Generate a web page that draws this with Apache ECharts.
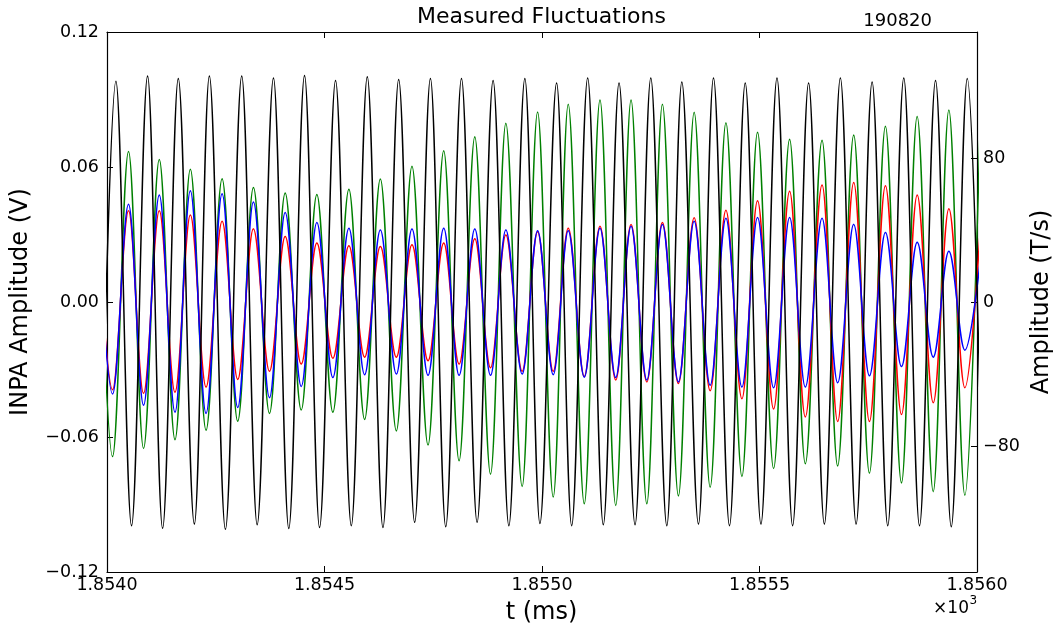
<!DOCTYPE html>
<html>
<head>
<meta charset="utf-8">
<script src="https://cdn.jsdelivr.net/npm/echarts@6/dist/echarts.min.js"></script>
<style>
html,body{margin:0;padding:0;background:#fff;}
#chart{width:1060px;height:626px;}
</style>
</head>
<body>
<div id="chart"></div>
<script>
// ---- Data (t in ms) ----
// Extrema (peak / trough) times of the INPA channels (red, green, blue share timing)
const tInpa = [1853.9763,1854.0127,1854.0495,1854.0840,1854.1202,1854.1563,1854.1916,1854.2277,1854.2646,1854.3005,
  1854.3366,1854.3735,1854.4096,1854.4465,1854.4824,1854.5192,1854.5561,1854.5922,1854.6284,1854.6652,
  1854.7011,1854.7380,1854.7741,1854.8094,1854.8455,1854.8817,1854.9169,1854.9544,1854.9899,1855.0258,
  1855.0603,1855.0972,1855.1333,1855.1695,1855.2047,1855.2409,1855.2768,1855.3136,1855.3498,1855.3866,
  1855.4228,1855.4596,1855.4955,1855.5324,1855.5692,1855.6053,1855.6438,1855.6797,1855.7166,1855.7527,
  1855.7895,1855.8264,1855.8625,1855.8994,1855.9353,1855.9721,1856.0083];
const greenV = [0.068,-0.0687,0.0669,-0.0651,0.0633,-0.0612,0.0590,-0.0570,0.0548,-0.0530,
  0.0509,-0.0495,0.0484,-0.0480,0.0478,-0.0490,0.0501,-0.0522,0.0547,-0.0573,
  0.0603,-0.0636,0.0672,-0.0706,0.0734,-0.0765,0.0794,-0.0820,0.0845,-0.0867,
  0.0879,-0.0897,0.0898,-0.0904,0.0898,-0.0897,0.0879,-0.0862,0.0843,-0.0823,
  0.0797,-0.0776,0.0754,-0.0740,0.0723,-0.0719,0.0719,-0.0729,0.0742,-0.0761,
  0.0781,-0.0804,0.0825,-0.0843,0.0853,-0.0859,0.087];
const redV = [0.040,-0.039,0.0406,-0.0406,0.0406,-0.0401,0.0387,-0.0378,0.0359,-0.0344,
  0.0325,-0.0308,0.0291,-0.0276,0.0262,-0.0250,0.0250,-0.0245,0.0247,-0.0245,
  0.0255,-0.0261,0.0262,-0.0276,0.0281,-0.0292,0.0298,-0.0308,0.0312,-0.0308,
  0.0328,-0.0331,0.0337,-0.0347,0.0344,-0.0355,0.0353,-0.0362,0.0375,-0.0394,
  0.0408,-0.0430,0.0450,-0.0475,0.0492,-0.0511,0.0520,-0.0531,0.0531,-0.0531,
  0.0517,-0.0500,0.0476,-0.0448,0.0415,-0.0381,0.035];
const blueV = [0.040,-0.0409,0.0434,-0.0459,0.0476,-0.0490,0.0494,-0.0495,0.0481,-0.0469,
  0.0445,-0.0425,0.0398,-0.0375,0.0353,-0.0336,0.0328,-0.0323,0.0320,-0.0320,
  0.0325,-0.0326,0.0328,-0.0326,0.0325,-0.0326,0.0320,-0.0320,0.0317,-0.0323,
  0.0317,-0.0334,0.0328,-0.0336,0.0337,-0.0347,0.0345,-0.0355,0.0359,-0.0370,
  0.0372,-0.0378,0.0376,-0.0381,0.0376,-0.0378,0.0372,-0.0359,0.0345,-0.0328,
  0.0309,-0.0287,0.0266,-0.0245,0.0226,-0.0214,0.020];
// Extrema of the magnetic probe signal (right axis, T/s)
const tBdot = [1853.9843,1854.0205,1854.0564,1854.0933,1854.1278,1854.1639,1854.2008,1854.2353,1854.2722,1854.3097,
  1854.3452,1854.3827,1854.4179,1854.4541,1854.4886,1854.5254,1854.5616,1854.5984,1854.6344,1854.6705,
  1854.7073,1854.7435,1854.7787,1854.8149,1854.8508,1854.8876,1854.9238,1854.9606,1854.9952,1855.0336,
  1855.0682,1855.1050,1855.1409,1855.1771,1855.2139,1855.2501,1855.2869,1855.3214,1855.3597,1855.3942,
  1855.4310,1855.4672,1855.5033,1855.5402,1855.5761,1855.6129,1855.6491,1855.6859,1855.7221,1855.7589,
  1855.7948,1855.8317,1855.8678,1855.9047,1855.9408,1855.9777,1856.0140];
const blackV = [-124,122.6,-124.3,125.5,-125.7,124.1,-123.4,125.5,-126.3,125.5,
  -123.8,124.5,-125.9,125.9,-125.3,123.0,-124.3,125.1,-125.3,123.6,
  -122.4,124.1,-124.9,124.1,-122.4,123.0,-124.3,124.1,-123.0,121.6,
  -124.3,124.5,-123.8,121.6,-123.8,124.5,-124.3,122.2,-123.4,124.5,
  -124.3,121.6,-123.4,124.5,-124.3,121.6,-123.4,124.5,-123.4,122.2,
  -124.3,124.5,-124.3,123.0,-124.9,124.1,-124];

const xTicks = [1854.0, 1854.5, 1855.0, 1855.5, 1856.0];
const leftTicks = [-0.12, -0.06, 0, 0.06, 0.12];
const rightTicks = [-80, 0, 80];

function pairs(t, v){ return t.map((x,i)=>[x, v[i]]); }
function minus(s){ return s.replace('-', '\u2212'); }

const FONT = 'DejaVu Sans';
const chart = echarts.init(document.getElementById('chart'), null, {renderer:'canvas'});

const lineBase = {
  type: 'line', showSymbol: false, symbol: 'none',
  smooth: 0.3642, smoothMonotone: 'x',
  animation: false, silent: true, clip: true
};

chart.setOption({
  animation: false,
  backgroundColor: '#fff',
  grid: {left: 107, right: 83, top: 32, bottom: 54, containLabel: false, outerBoundsMode: 'none'},
  xAxis: [{
    type: 'value', min: 1854, max: 1856, interval: 0.5, position: 'bottom',
    axisLine: {show: true, onZero: false, lineStyle: {color: '#000', width: 1.2}},
    axisTick: {show: true, inside: true, length: 6, lineStyle: {color: '#000'}},
    axisLabel: {margin: 4, color: '#000', fontFamily: FONT, fontSize: 17.5,
      formatter: v => (v/1000).toFixed(4)},
    splitLine: {show: false}
  }, {
    type: 'value', min: 1854, max: 1856, interval: 0.5, position: 'top',
    axisLine: {show: true, onZero: false, lineStyle: {color: '#000', width: 1.2}},
    axisTick: {show: true, inside: true, length: 6, lineStyle: {color: '#000'}},
    axisLabel: {show: false},
    splitLine: {show: false}
  }],
  yAxis: [{
    type: 'value', min: -0.12, max: 0.12, interval: 0.06, position: 'left',
    axisLine: {show: true, onZero: false, lineStyle: {color: '#000', width: 1.2}},
    axisTick: {show: true, inside: true, length: 6, lineStyle: {color: '#000'}},
    axisLabel: {margin: 8, color: '#000', fontFamily: FONT, fontSize: 17.5,
      formatter: v => minus(v.toFixed(2))},
    splitLine: {show: false}
  }, {
    type: 'value', min: -150, max: 150, position: 'right',
    axisLine: {show: true, onZero: false, lineStyle: {color: '#000', width: 1.2}},
    axisTick: {show: true, inside: true, length: 6, lineStyle: {color: '#000'}, customValues: rightTicks},
    axisLabel: {margin: 6, color: '#000', fontFamily: FONT, fontSize: 17.5, customValues: rightTicks,
      formatter: v => minus(String(v))},
    splitLine: {show: false}
  }],
  series: [
    Object.assign({}, lineBase, {name: 'green', data: pairs(tInpa, greenV), yAxisIndex: 0,
      lineStyle: {color: '#008000', width: 1.5}, z: 2}),
    Object.assign({}, lineBase, {name: 'red', data: pairs(tInpa, redV), yAxisIndex: 0,
      lineStyle: {color: '#ff0000', width: 1.5}, z: 3}),
    Object.assign({}, lineBase, {name: 'blue', data: pairs(tInpa, blueV), yAxisIndex: 0,
      lineStyle: {color: '#0000ff', width: 1.5}, z: 4}),
    Object.assign({}, lineBase, {name: 'black', data: pairs(tBdot, blackV), yAxisIndex: 1,
      lineStyle: {color: '#000000', width: 1.5}, z: 5})
  ],
  graphic: [
    {type: 'text', x: 541.5, y: 17, style: {text: 'Measured Fluctuations', font: '22px "DejaVu Sans"', fill: '#000', align: 'center', verticalAlign: 'middle'}},
    {type: 'text', x: 932, y: 21, style: {text: '190820', font: '18px "DejaVu Sans"', fill: '#000', align: 'right', verticalAlign: 'middle'}},
    {type: 'text', x: 21, y: 302, rotation: Math.PI/2, style: {text: 'INPA Amplitude (V)', font: '24px "DejaVu Sans"', fill: '#000', align: 'center', verticalAlign: 'middle'}},
    {type: 'text', x: 1042, y: 302, rotation: Math.PI/2, style: {text: 'Amplitude (T/s)', font: '24px "DejaVu Sans"', fill: '#000', align: 'center', verticalAlign: 'middle'}},
    {type: 'text', x: 541.5, y: 613, style: {text: 't (ms)', font: '24px "DejaVu Sans"', fill: '#000', align: 'center', verticalAlign: 'middle'}},
    {type: 'text', x: 969, y: 609, style: {text: '\u00d710', font: '17px "DejaVu Sans"', fill: '#000', align: 'right', verticalAlign: 'middle'}},
    {type: 'text', x: 969.5, y: 601, style: {text: '3', font: '12px "DejaVu Sans"', fill: '#000', align: 'left', verticalAlign: 'middle'}}
  ]
});
</script>
</body>
</html>
